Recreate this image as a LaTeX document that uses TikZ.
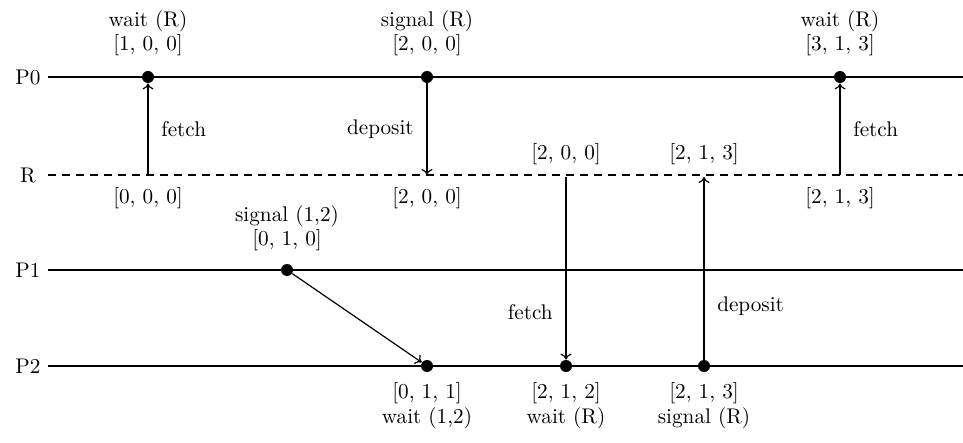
\documentclass[tikz,border=0pt]{standalone}
\usetikzlibrary{positioning,arrows.meta}

\begin{document}
\begin{tikzpicture}[
  x=0.5pt, y=-0.5pt,
  every node/.style={font=\fontsize{10.6}{12.4}\selectfont},
  ev/.style={circle, fill=black, inner sep=0pt, minimum size=6pt},
  lbl/.style={align=center, inner sep=1pt},
  tl/.style={black, semithick},
  rl/.style={black, semithick, dash pattern=on 4pt off 3pt},
  arr/.style={-{To[length=3pt, width=5.5pt]}, black, semithick}
]
\useasboundingbox (0,0) rectangle (963,443);

% ---------------- time lines ----------------
\node (p0) at (28,77) {P0};
\node (r) at (28,175) {R};
\node (p1) at (28,270) {P1};
\node (p2) at (28,366) {P2};
\coordinate (p0s) at (48,77);   \coordinate (p0e) at (963,77);
\coordinate (rs) at (48,175);   \coordinate (re) at (963,175);
\coordinate (p1s) at (48,270);  \coordinate (p1e) at (963,270);
\coordinate (p2s) at (48,366);  \coordinate (p2e) at (963,366);
\draw[tl] (p0s) -- (p0e);
\draw[rl] (rs) -- (re);
\draw[tl] (p1s) -- (p1e);
\draw[tl] (p2s) -- (p2e);

% ---------------- events ----------------
\node[ev] (w0a) at (148,77) {};
\node[ev] (s0) at (427,77) {};
\node[ev] (w0b) at (840,77) {};
\node[ev] (s1) at (287,270) {};
\node[ev] (w2a) at (427,366) {};
\node[ev] (w2b) at (566,366) {};
\node[ev] (s2) at (704,366) {};

% points on R
\coordinate (ra) at (148,175);
\coordinate (rb) at (427,175);
\coordinate (rc) at (566,177);
\coordinate (rd) at (704,177);
\coordinate (rf) at (840,175);

% ---------------- labels ----------------
\node[lbl, above=6pt of w0a] {wait (R)\\{}[1, 0, 0]};
\node[lbl, above=6pt of s0] {signal (R)\\{}[2, 0, 0]};
\node[lbl, above=6pt of w0b] {wait (R)\\{}[3, 1, 3]};
\node[lbl, above=5pt of s1] {signal (1,2)\\{}[0, 1, 0]};
\node[lbl, below=4pt of w2a] {[0, 1, 1]\\wait (1,2)};
\node[lbl, below=4pt of w2b] {[2, 1, 2]\\wait (R)};
\node[lbl, below=4pt of s2] {[2, 1, 3]\\signal (R)};

\node[lbl, below=5pt of ra] {[0, 0, 0]};
\node[lbl, below=5pt of rb] {[2, 0, 0]};
\node[lbl, below=5pt of rf] {[2, 1, 3]};
\node[lbl, above=5pt of rc] {[2, 0, 0]};
\node[lbl, above=5pt of rd] {[2, 1, 3]};

% ---------------- messages ----------------
\draw[arr] (ra) -- node[right=3pt]{fetch} (w0a);
\draw[arr] (s0) -- node[left=3pt]{deposit} (rb);
\draw[arr] (rf) -- node[right=3pt]{fetch} (w0b);
\draw[arr] (s1) -- (w2a);
\draw[arr] (rc) -- node[left=3pt, pos=0.74]{fetch} (w2b);
\draw[arr] (s2) -- node[right=3pt, pos=0.29]{deposit} (rd);

\end{tikzpicture}
\end{document}
